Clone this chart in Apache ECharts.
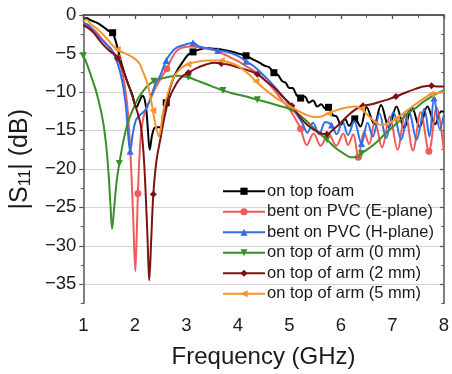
<!DOCTYPE html>
<html><head><meta charset="utf-8">
<script src="https://cdn.jsdelivr.net/npm/echarts@6/dist/echarts.min.js"></script>
<style>html,body{margin:0;padding:0;background:#fff}#c{width:452px;height:374px}</style>
</head><body><div id="c"></div>
<script>
// ---------- data (frequency GHz, |S11| dB) ----------
const seriesNames = ['on top foam','bent on PVC (E-plane)','bent on PVC (H-plane)','on top of arm (0 mm)','on top of arm (2 mm)','on top of arm (5 mm)'];

const foam = [[1.00,-0.8],[1.06,-0.4],[1.15,-0.7],[1.28,-1.05],[1.40,-1.6],[1.50,-2.1],[1.57,-2.3],[1.62,-3.2],[1.67,-4.4],[1.75,-6.5],[1.86,-8.8],[1.95,-10.3],[2.03,-12.0],[2.09,-11.2],[2.15,-10.5],[2.21,-11.6],[2.25,-14.5],[2.29,-17.5],[2.34,-15.5],[2.40,-14.6],[2.50,-14.6],[2.55,-12.8],[2.61,-11.4],[2.68,-9.6],[2.75,-8.2],[2.85,-6.9],[2.94,-6.0],[3.03,-5.2],[3.13,-4.8],[3.25,-4.5],[3.40,-4.3],[3.55,-4.4],[3.70,-4.5],[3.85,-4.7],[4.00,-5.0],[4.16,-5.3],[4.30,-5.8],[4.42,-6.2],[4.52,-6.6],[4.61,-6.8],[4.70,-7.5],[4.78,-7.8],[4.86,-8.6],[4.93,-8.8],[5.00,-9.5],[5.06,-9.5],[5.14,-10.4],[5.22,-10.8],[5.30,-10.6],[5.38,-11.4],[5.46,-11.1],[5.54,-11.9],[5.62,-11.6],[5.70,-12.2],[5.76,-12.0],[5.84,-13.0],[5.92,-13.2],[6.00,-14.3],[6.08,-13.5],[6.16,-14.4],[6.27,-13.5],[6.38,-14.5],[6.50,-12.0],[6.65,-14.2],[6.78,-11.7],[6.93,-14.6],[7.08,-11.9],[7.23,-14.7],[7.38,-12.0],[7.53,-14.6],[7.68,-11.9],[7.83,-14.2],[7.95,-12.5],[8.00,-12.6]];
const foamMarks = [1.57,2.61,3.13,4.16,4.70,5.22,5.76,6.27];

const ePlane = [[1.00,-1.2],[1.10,-1.4],[1.20,-1.9],[1.30,-2.6],[1.40,-3.4],[1.50,-4.2],[1.60,-5.0],[1.67,-5.6],[1.74,-7.0],[1.80,-9.0],[1.85,-11.5],[1.89,-15.0],[1.93,-20.0],[1.97,-26.5],[2.01,-33.3],[2.04,-28.0],[2.06,-23.2],[2.09,-18.5],[2.13,-14.8],[2.20,-12.5],[2.30,-11.0],[2.40,-9.5],[2.50,-8.3],[2.62,-7.0],[2.72,-5.6],[2.82,-4.6],[2.95,-4.2],[3.10,-4.1],[3.25,-4.2],[3.40,-4.4],[3.55,-4.6],[3.70,-5.0],[3.85,-5.5],[4.00,-6.0],[4.15,-6.6],[4.30,-7.2],[4.42,-7.8],[4.55,-8.6],[4.70,-9.7],[4.85,-11.0],[5.00,-12.2],[5.10,-13.3],[5.22,-14.8],[5.34,-16.9],[5.47,-15.4],[5.61,-17.0],[5.76,-15.4],[5.91,-17.0],[6.05,-15.4],[6.14,-16.9],[6.24,-15.5],[6.34,-18.5],[6.45,-15.2],[6.55,-16.8],[6.66,-13.8],[6.80,-17.2],[6.95,-13.2],[7.10,-17.5],[7.25,-12.8],[7.40,-17.6],[7.55,-12.6],[7.71,-17.7],[7.86,-12.0],[8.00,-17.7]];
const ePlaneMarks = [1.67,2.06,2.62,5.22,6.34,7.71];

const hPlane = [[1.00,-1.0],[1.10,-1.3],[1.22,-2.3],[1.35,-3.2],[1.45,-3.8],[1.54,-4.4],[1.62,-5.5],[1.68,-6.6],[1.73,-7.8],[1.78,-9.5],[1.83,-12.0],[1.87,-15.5],[1.91,-17.7],[1.96,-15.5],[2.02,-13.7],[2.10,-13.0],[2.17,-12.6],[2.24,-12.0],[2.32,-10.5],[2.40,-9.0],[2.50,-7.8],[2.61,-5.9],[2.72,-4.8],[2.82,-4.2],[2.95,-3.9],[3.13,-3.6],[3.25,-4.1],[3.40,-4.3],[3.61,-4.6],[3.80,-4.8],[4.00,-5.3],[4.16,-6.0],[4.30,-6.6],[4.45,-7.5],[4.60,-8.5],[4.75,-9.6],[4.90,-10.8],[5.05,-12.0],[5.15,-13.0],[5.25,-14.0],[5.35,-15.3],[5.46,-14.0],[5.58,-15.5],[5.70,-13.9],[5.82,-14.3],[5.92,-15.5],[6.03,-13.8],[6.14,-15.6],[6.26,-13.8],[6.40,-16.7],[6.52,-14.0],[6.62,-15.8],[6.75,-12.8],[6.88,-16.0],[7.02,-12.6],[7.17,-16.2],[7.32,-12.4],[7.47,-16.2],[7.62,-12.2],[7.72,-15.8],[7.81,-10.8],[7.92,-14.8],[8.00,-13.0]];
const hPlaneMarks = [1.91,2.61,3.13,3.61,4.16,5.82,6.40,7.81];

const arm0 = [[1.00,-5.3],[1.06,-6.2],[1.12,-7.3],[1.18,-8.5],[1.24,-9.7],[1.30,-11.2],[1.36,-13.0],[1.41,-15.0],[1.46,-18.0],[1.50,-21.5],[1.53,-25.0],[1.56,-27.8],[1.60,-25.0],[1.65,-21.5],[1.70,-19.3],[1.78,-16.3],[1.86,-14.1],[1.95,-12.5],[2.05,-11.0],[2.15,-10.0],[2.25,-9.2],[2.37,-8.6],[2.50,-8.3],[2.69,-8.0],[2.85,-7.9],[3.04,-8.1],[3.20,-8.5],[3.40,-9.0],[3.55,-9.4],[3.71,-9.8],[3.90,-10.2],[4.10,-10.5],[4.38,-11.0],[4.60,-11.4],[4.80,-11.8],[5.00,-12.2],[5.20,-13.0],[5.40,-14.2],[5.55,-15.2],[5.73,-16.2],[5.90,-17.3],[6.05,-18.0],[6.20,-18.5],[6.32,-18.5],[6.40,-18.0],[6.55,-17.3],[6.70,-16.5],[6.85,-15.5],[7.00,-14.6],[7.15,-13.7],[7.30,-12.8],[7.45,-12.1],[7.60,-11.3],[7.76,-10.6],[7.90,-10.1],[8.00,-9.8]];
const arm0Marks = [1.00,1.70,2.37,3.04,3.71,4.38,5.73,6.40];

const arm2 = [[1.00,-1.3],[1.10,-1.7],[1.20,-2.3],[1.35,-3.6],[1.50,-4.6],[1.60,-5.1],[1.67,-5.6],[1.75,-6.8],[1.84,-8.4],[1.92,-9.9],[2.00,-11.6],[2.05,-12.6],[2.12,-14.5],[2.17,-18.0],[2.21,-23.0],[2.25,-29.5],[2.28,-34.5],[2.32,-29.0],[2.36,-23.3],[2.42,-19.0],[2.50,-16.0],[2.57,-13.5],[2.66,-11.0],[2.80,-9.0],[2.92,-8.0],[3.04,-7.5],[3.20,-6.9],[3.40,-6.4],[3.55,-6.2],[3.68,-6.3],[3.85,-6.5],[4.00,-6.8],[4.20,-7.2],[4.38,-7.7],[4.55,-8.6],[4.70,-9.4],[4.87,-10.6],[5.05,-11.8],[5.20,-13.2],[5.35,-14.3],[5.50,-15.0],[5.62,-15.4],[5.73,-15.5],[5.85,-14.9],[6.00,-14.0],[6.15,-13.0],[6.30,-12.2],[6.43,-11.8],[6.60,-11.6],[6.80,-11.2],[6.95,-10.9],[7.07,-10.6],[7.25,-10.1],[7.45,-9.6],[7.60,-9.3],[7.76,-9.2],[7.90,-9.3],[8.00,-9.3]];
const arm2Marks = [1.67,2.36,3.04,3.68,4.38,5.05,5.73,6.43,7.07,7.76];

const arm5 = [[1.00,-0.8],[1.06,-0.6],[1.15,-1.2],[1.25,-1.7],[1.35,-2.3],[1.45,-3.0],[1.55,-3.8],[1.66,-4.5],[1.75,-4.8],[1.85,-5.1],[1.98,-5.6],[2.08,-6.2],[2.16,-7.4],[2.24,-8.8],[2.30,-10.5],[2.35,-12.4],[2.41,-14.5],[2.47,-15.8],[2.52,-14.0],[2.57,-12.0],[2.65,-10.0],[2.75,-8.2],[2.88,-7.0],[3.03,-6.4],[3.20,-6.1],[3.40,-5.9],[3.55,-5.9],[3.68,-5.9],[3.85,-6.2],[4.00,-6.6],[4.18,-7.5],[4.35,-8.6],[4.55,-9.8],[4.75,-10.8],[4.95,-11.6],[5.10,-12.2],[5.30,-12.9],[5.50,-13.3],[5.62,-13.2],[5.76,-12.8],[5.95,-12.3],[6.15,-12.0],[6.30,-11.9],[6.40,-12.2],[6.52,-13.0],[6.65,-13.8],[6.80,-14.3],[6.95,-14.0],[7.07,-13.5],[7.25,-12.6],[7.45,-11.6],[7.60,-10.9],[7.75,-10.3],[7.90,-10.1],[8.00,-10.0]];
const arm5Marks = [1.66,2.35,3.03,3.68,4.35,5.76,6.40,7.07,7.75];

const xTicks = [1,2,3,4,5,6,7,8];
const yMajorTicks = [0,-5,-10,-15,-20,-25,-30,-35];
const yMinorTicks = [-2.5,-7.5,-12.5,-17.5,-22.5,-27.5,-32.5,-37.5];

// ---------- styling ----------
const FONT = 'Liberation Sans, Arial, sans-serif';
const TXT = '#1a1a1a';
const AX = '#555';
const colors = ['#000000','#f05a5a','#2f6fe6','#3a8f2a','#7d1212','#f5952e'];
const symbols = ['rect','circle','triangle','triangle','diamond','triangle'];
const rotations = [0,0,0,180,0,90];
const datasets = [foam,ePlane,hPlane,arm0,arm2,arm5];
const marks = [foamMarks,ePlaneMarks,hPlaneMarks,arm0Marks,arm2Marks,arm5Marks];

const series = datasets.map((d,i)=>({
  name: seriesNames[i], type:'line', data:d, xAxisIndex:0, yAxisIndex:0,
  smooth:0.35, symbol:symbols[i], symbolRotate:rotations[i],
  symbolSize:(v)=> marks[i].some(m=>Math.abs(m-v[0])<1e-6) ? 7 : 0,
  showAllSymbol:true,
  lineStyle:{color:colors[i],width:2},
  itemStyle:{color:colors[i]},
  emphasis:{disabled:true}, animation:false, z:2+i
}));

const baseX = {type:'value',min:1,max:8,interval:1};
const baseY = {type:'value',min:-37.5,max:0};
const minusFmt = v => String(v).replace('-', '\u2212');

const option = {
  animation:false,
  backgroundColor:'#fff',
  grid:{left:82,right:5,top:15,bottom:62,containLabel:false},
  legend:{
    orient:'vertical', left:217, top:176, itemWidth:42, itemHeight:9, itemGap:0,
    data:seriesNames,
    textStyle:{fontFamily:FONT,fontSize:16.5,color:TXT,lineHeight:20.5,padding:[0,0,0,-3]},
    inactiveColor:'#ccc', selectedMode:false
  },
  xAxis:[
    Object.assign({},baseX,{position:'bottom',
      name:'Frequency (GHz)',nameLocation:'middle',nameGap:41.5,
      nameTextStyle:{fontFamily:FONT,fontSize:24,color:TXT},
      axisLine:{show:true,lineStyle:{color:AX,width:1.5}},
      axisTick:{show:true,inside:false,length:4,lineStyle:{color:AX,width:1.2}},
      minorTick:{show:true,splitNumber:2,length:2.5,lineStyle:{color:AX,width:1}},
      axisLabel:{fontFamily:FONT,fontSize:18.5,color:TXT,margin:13,formatter:v=>xTicks.includes(v)?String(v):''},
      splitLine:{show:false}}),
    Object.assign({},baseX,{position:'top',
      axisLine:{show:true,onZero:false,lineStyle:{color:AX,width:1.5}},
      axisTick:{show:true,inside:true,length:4,lineStyle:{color:AX,width:1.2}},
      minorTick:{show:true,splitNumber:2,length:2.5,lineStyle:{color:AX,width:1}},
      axisLabel:{show:false},splitLine:{show:false}})
  ],
  yAxis:[
    Object.assign({},baseY,{position:'left',
      name:'|S{s|11}| (dB)',nameLocation:'middle',nameGap:44,
      nameTextStyle:{fontFamily:FONT,fontSize:25,color:TXT,
        rich:{s:{fontFamily:FONT,fontSize:16,color:TXT,verticalAlign:'bottom',padding:[11,0,0,0]}}},
      axisLine:{show:true,onZero:false,lineStyle:{color:AX,width:1.5}},
      axisTick:{show:true,inside:false,length:4,customValues:yMajorTicks,lineStyle:{color:AX,width:1.2}},
      axisLabel:{fontFamily:FONT,fontSize:18.5,color:TXT,margin:7,customValues:yMajorTicks,formatter:minusFmt},
      splitLine:{show:true,lineStyle:{color:'#d4d4d4',width:1}}}),
    Object.assign({},baseY,{position:'left',
      axisLine:{show:false},
      axisTick:{show:true,inside:false,length:2.5,customValues:yMinorTicks,lineStyle:{color:AX,width:1}},
      axisLabel:{show:false},splitLine:{show:false}}),
    Object.assign({},baseY,{position:'right',
      axisLine:{show:true,onZero:false,lineStyle:{color:AX,width:1.5}},
      axisTick:{show:true,inside:true,length:4,customValues:yMajorTicks,lineStyle:{color:AX,width:1.2}},
      axisLabel:{show:false},splitLine:{show:false}}),
    Object.assign({},baseY,{position:'right',
      axisLine:{show:false},
      axisTick:{show:true,inside:true,length:2.5,customValues:yMinorTicks,lineStyle:{color:AX,width:1}},
      axisLabel:{show:false},splitLine:{show:false}})
  ],
  series: series
};

const chart = echarts.init(document.getElementById('c'),null,{renderer:'canvas'});
chart.setOption(option);
</script>
</body></html>
